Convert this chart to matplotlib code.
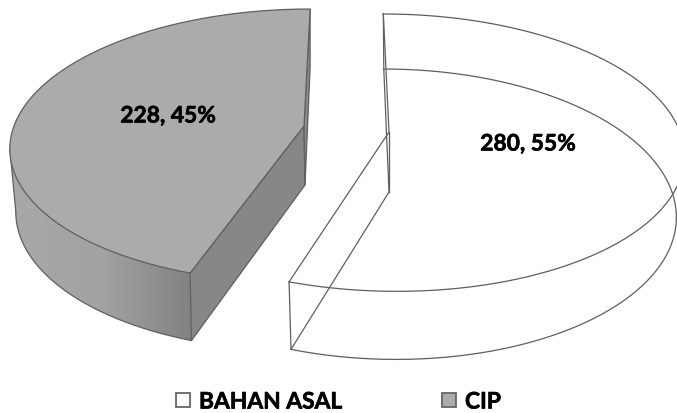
import numpy as np
import matplotlib
matplotlib.use("Agg")
import matplotlib.pyplot as plt
import matplotlib.patheffects as pe
from matplotlib.colors import LinearSegmentedColormap
from matplotlib.patches import Polygon, Rectangle

categories = ["BAHAN ASAL", "CIP"]
values = [280, 228]

W, H = 677, 414
EDGE = "#5f5f5f"
fig = plt.figure(figsize=(W / 100, H / 100), dpi=100)
ax = fig.add_axes([0, 0, 1, 1])
ax.axis("off")

total = sum(values)
split = 360 * values[0] / total


def rim(theta_deg, apex, a, b, k, s):
    t = np.radians(theta_deg)
    X, Y = np.sin(t), np.cos(t)
    w = 1 + k * Y
    return np.column_stack([apex[0] + (a * X + s * Y) / w, apex[1] - b * Y / w])


# ---------- slice 1: wireframe (no fill) ----------
th = np.linspace(0, split, 240)
a_top, a_bot = (389, 133), (389, 193)
top = rim(th, a_top, 291, 135.6, 0.149, -6.5)
bot = rim(th, a_bot, 283, 141.8, 0.153, -6.0)
lw = 0.9
ax.plot(top[:, 0], top[:, 1], color=EDGE, lw=lw)
ax.plot(bot[:, 0], bot[:, 1], color=EDGE, lw=lw)
for arc, apex in ((top, a_top), (bot, a_bot)):
    ax.plot([arc[0, 0], apex[0], arc[-1, 0]], [arc[0, 1], apex[1], arc[-1, 1]], color=EDGE, lw=lw)
for p, q in ((top[0], bot[0]), (a_top, a_bot), (top[-1], bot[-1])):
    ax.plot([p[0], q[0]], [p[1], q[1]], color=EDGE, lw=lw)

# ---------- slice 2: shaded ----------
th = np.linspace(split, 360, 240)
g_top, g_bot = (304, 127), (305, 186)
top = rim(th, g_top, 290, 133.8, 0.144, 7.0)
bot = rim(th, g_bot, 284, 137.8, 0.168, 6.0)

# outer wall: horizontal gradient clipped to the wall outline
i_top = int(np.argmin(top[:, 0]))
i_bot = int(np.argmin(bot[:, 0]))
wall = Polygon(np.vstack([top[:i_top + 1], bot[:i_bot + 1][::-1]]), closed=True,
               facecolor="none", edgecolor="none", zorder=2)
ax.add_patch(wall)
cmap = LinearSegmentedColormap.from_list("wall", ["#a9a9a9", "#a2a2a2", "#7f7f7f"])
img = ax.imshow(np.linspace(0, 1, 256)[None, :], cmap=cmap, extent=(5, 200, 350, 130),
                aspect="auto", zorder=2, interpolation="bilinear")
img.set_clip_path(wall)
ax.plot([top[i_top, 0], bot[i_bot, 0]], [top[i_top, 1], bot[i_bot, 1]], color=EDGE, lw=lw, zorder=3)
ax.plot(bot[:i_bot + 1, 0], bot[:i_bot + 1, 1], color=EDGE, lw=lw, zorder=3)

# cut faces
ax.add_patch(Polygon([top[0], g_top, g_bot, bot[0]], closed=True, facecolor="#878787",
                     edgecolor=EDGE, lw=lw, zorder=3))
ax.add_patch(Polygon([top[-1], g_top, g_bot, bot[-1]], closed=True, facecolor="#8a8a8a",
                     edgecolor=EDGE, lw=lw, zorder=3))
# top face
ax.add_patch(Polygon(np.vstack([top, [g_top]]), closed=True, facecolor="#ababab",
                     edgecolor=EDGE, lw=lw, zorder=4))

ax.set_xlim(0, W)
ax.set_ylim(H, 0)

# ---------- labels ----------
font = dict(family="Lato", fontweight="bold", color="black", fontsize=16.4,
            path_effects=[pe.withStroke(linewidth=0.45, foreground="black")])
for (x, y), v in zip([(528, 145), (168, 117)], values):
    ax.text(x, y, f"{v}, {round(100 * v / total)}%", ha="center", va="center", zorder=6, **font)

# ---------- legend ----------
for (mx, tx), name, fc in zip([(175, 199), (441, 465)], categories, ["white", "#ababab"]):
    ax.add_patch(Rectangle((mx + 1, 394), 14, 14, facecolor=fc, edgecolor="#666666", lw=1.3))
    ax.text(tx, 403, name, ha="left", va="center", **font)

fig.savefig("out.png", dpi=100)
